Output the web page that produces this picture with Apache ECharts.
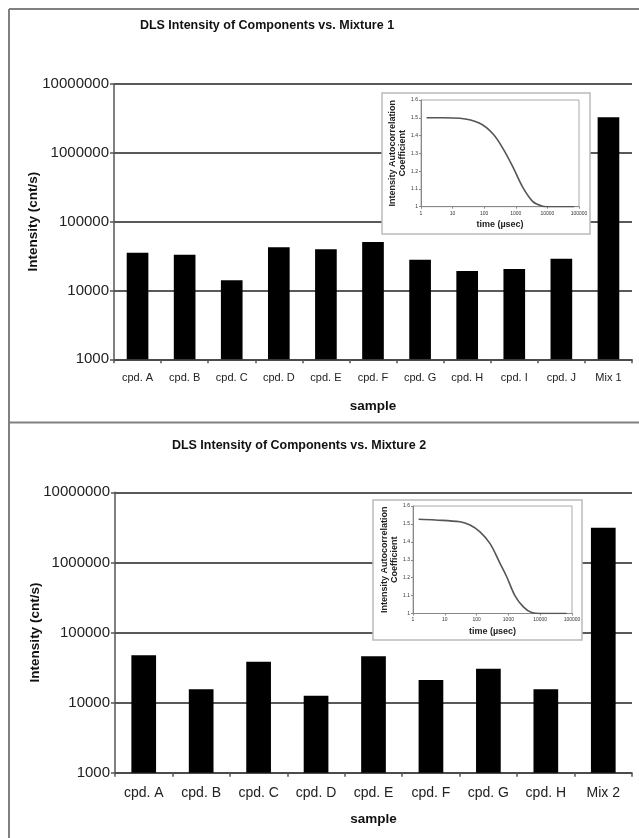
<!DOCTYPE html>
<html>
<head>
<meta charset="utf-8">
<script src="https://cdn.jsdelivr.net/npm/echarts@6/dist/echarts.min.js"></script>
<style>
html,body{margin:0;padding:0;background:#fff;}
#chart{width:639px;height:838px;}
</style>
</head>
<body>
<div id="chart"></div>
<script>
// ---- data ----
const categories1 = ['cpd. A','cpd. B','cpd. C','cpd. D','cpd. E','cpd. F','cpd. G','cpd. H','cpd. I','cpd. J','Mix 1'];
const intensity1 = [35400, 33100, 14100, 42400, 39700, 50700, 28000, 19200, 20500, 29000, 3290000];
const categories2 = ['cpd. A','cpd. B','cpd. C','cpd. D','cpd. E','cpd. F','cpd. G','cpd. H','Mix 2'];
const intensity2 = [47300, 15500, 38300, 12500, 45800, 21000, 30500, 15500, 3130000];
const intensityTicks = [1000, 10000, 100000, 1000000, 10000000];
const timeTicks = [1, 10, 100, 1000, 10000, 100000];
const corrTicks = [1, 1.1, 1.2, 1.3, 1.4, 1.5, 1.6];
// inset autocorrelation curves
const time1 = [1.5, 5, 17, 72, 188, 390, 800, 1650, 3400, 6300, 10000, 70000];
const corr1 = [1.5, 1.5, 1.497, 1.469, 1.41, 1.328, 1.225, 1.11, 1.03, 1.005, 1.0, 1.0];
const time2 = [1.5, 5, 30, 62, 128, 265, 545, 885, 1600, 2950, 5400, 10000, 68000];
const corr2 = [1.526, 1.522, 1.512, 1.494, 1.456, 1.39, 1.28, 1.205, 1.10, 1.037, 1.005, 1.0, 1.0];
const titles = ['DLS Intensity of Components vs. Mixture 1', 'DLS Intensity of Components vs. Mixture 2'];

const FONT = '"Liberation Sans", Arial, sans-serif';
const chart = echarts.init(document.getElementById('chart'), null, {renderer: 'canvas'});

function mainY(gridIndex, gap){
  return {
    type: 'log', logBase: 10, gridIndex,
    min: intensityTicks[0], max: intensityTicks[intensityTicks.length-1],
    name: 'Intensity (cnt/s)', nameLocation: 'middle', nameGap: gap, nameRotate: 90,
    nameMoveOverlap: false,
    nameTextStyle: {fontFamily: FONT, fontSize: 13.5, fontWeight: 'bold', color: '#111'},
    axisLine: {show: true, lineStyle: {color: '#555', width: 1.5}},
    axisTick: {show: true, length: 4, lineStyle: {color: '#555', width: 1.5}},
    axisLabel: {fontFamily: FONT, fontSize: 15, color: '#222', margin: 5,
      formatter: v => String(Math.round(v))},
    splitLine: {show: true, lineStyle: {color: '#222', width: 1.5}},
    minorTick: {show: false}
  };
}
function mainX(gridIndex, cats, fs){
  return {
    type: 'category', gridIndex, data: cats,
    name: 'sample', nameLocation: 'middle', nameGap: 40, nameMoveOverlap: false,
    nameTextStyle: {fontFamily: FONT, fontSize: 13.5, fontWeight: 'bold', color: '#111'},
    axisLine: {show: true, lineStyle: {color: '#555', width: 1.5}},
    axisTick: {show: true, length: 4, interval: 0, lineStyle: {color: '#555', width: 1.5}},
    axisLabel: {fontFamily: FONT, fontSize: fs, color: '#222', margin: 13, interval: 0}
  };
}
function insetX(gridIndex, gap){
  return {
    type: 'log', logBase: 10, gridIndex, z: 12,
    min: timeTicks[0], max: timeTicks[timeTicks.length-1],
    name: 'time (µsec)', nameLocation: 'middle', nameGap: gap, nameMoveOverlap: false,
    nameTextStyle: {fontFamily: FONT, fontSize: 9, fontWeight: 'bold', color: '#222'},
    axisLine: {show: true, lineStyle: {color: '#888', width: 1}},
    axisTick: {show: true, length: 2, lineStyle: {color: '#888'}},
    axisLabel: {fontFamily: FONT, fontSize: 5, color: '#333', margin: 4,
      formatter: v => String(Math.round(v))},
    splitLine: {show: false}
  };
}
function insetY(gridIndex){
  return {
    type: 'value', gridIndex, z: 12,
    min: corrTicks[0], max: corrTicks[corrTicks.length-1], interval: 0.1,
    name: 'Intensity Autocorrelation\nCoefficient', nameLocation: 'middle', nameGap: 13, nameRotate: 90,
    nameMoveOverlap: false,
    nameTextStyle: {fontFamily: FONT, fontSize: 9, fontWeight: 'bold', color: '#222', lineHeight: 10},
    axisLine: {show: true, lineStyle: {color: '#888', width: 1}},
    axisTick: {show: true, length: 2, lineStyle: {color: '#888'}},
    axisLabel: {fontFamily: FONT, fontSize: 5, color: '#333', margin: 3,
      formatter: v => String(Math.round(v*10)/10)},
    splitLine: {show: false}
  };
}

const option = {
  backgroundColor: '#fff',
  animation: false,
  grid: [
    {left: 114, top: 84, width: 518, height: 275.3},
    {left: 421, top: 100, width: 158, height: 106.7, show: true, z: 12, borderColor: '#aaa', borderWidth: 1, backgroundColor: '#fff'},
    {left: 115, top: 492.3, width: 517, height: 280.4},
    {left: 413, top: 506, width: 159, height: 107.5, show: true, z: 12, borderColor: '#aaa', borderWidth: 1, backgroundColor: '#fff'}
  ],
  xAxis: [mainX(0, categories1, 11), insetX(1, 13), mainX(2, categories2, 14), insetX(3, 13.5)],
  yAxis: [mainY(0, 74), insetY(1), mainY(2, 73), insetY(3)],
  series: [
    {type: 'bar', xAxisIndex: 0, yAxisIndex: 0, data: intensity1, barWidth: '46%', clip: true,
     itemStyle: {color: '#000'}},
    {type: 'line', xAxisIndex: 1, yAxisIndex: 1, data: time1.map((t,i)=>[t, corr1[i]]), z: 13,
     smooth: 0.35, showSymbol: false, lineStyle: {color: '#555', width: 1.6}},
    {type: 'bar', xAxisIndex: 2, yAxisIndex: 2, data: intensity2, barWidth: '43%', clip: true,
     itemStyle: {color: '#000'}},
    {type: 'line', xAxisIndex: 3, yAxisIndex: 3, data: time2.map((t,i)=>[t, corr2[i]]), z: 13,
     smooth: 0.35, showSymbol: false, lineStyle: {color: '#555', width: 1.6}}
  ],
  graphic: [
    {type: 'rect', z: 10, shape: {x: 382, y: 93, width: 208, height: 141},
     style: {fill: '#fff', stroke: '#bbb', lineWidth: 1.5}},
    {type: 'rect', z: 10, shape: {x: 373, y: 500, width: 209, height: 140},
     style: {fill: '#fff', stroke: '#bbb', lineWidth: 1.5}},
    {type: 'line', z: 20, shape: {x1: 9, y1: 9, x2: 639, y2: 9}, style: {stroke: '#808080', lineWidth: 2}},
    {type: 'line', z: 20, shape: {x1: 9, y1: 9, x2: 9, y2: 838}, style: {stroke: '#808080', lineWidth: 2}},
    {type: 'line', z: 20, shape: {x1: 9, y1: 422.5, x2: 639, y2: 422.5}, style: {stroke: '#808080', lineWidth: 2}},
    {type: 'text', z: 20, style: {text: titles[0], x: 267, y: 26, textAlign: 'center', textVerticalAlign: 'middle',
      font: 'bold 12.5px ' + FONT, fill: '#111'}},
    {type: 'text', z: 20, style: {text: titles[1], x: 299, y: 446, textAlign: 'center', textVerticalAlign: 'middle',
      font: 'bold 12.5px ' + FONT, fill: '#111'}}
  ]
};
chart.setOption(option);
</script>
</body>
</html>
